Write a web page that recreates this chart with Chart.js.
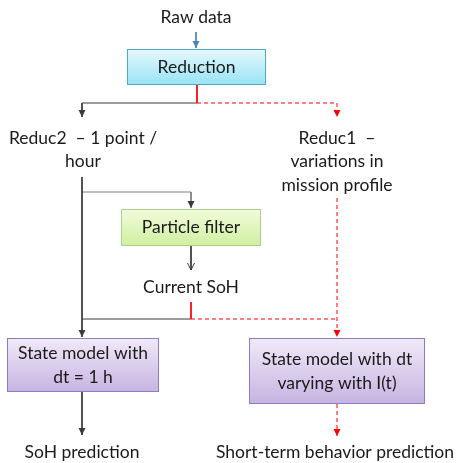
<!DOCTYPE html>
<html>
<head>
<meta charset="utf-8">
<script src="https://cdn.jsdelivr.net/npm/chart.js@4.4.1/dist/chart.umd.min.js"></script>
<style>
  html, body { margin: 0; padding: 0; background: #fff; }
  #wrap { width: 459px; height: 463px; }
</style>
</head>
<body>
<div id="wrap"><canvas id="flow" width="459" height="463"></canvas></div>
<script>
// boxes of the flow diagram
const boxLabels = [
  ['Reduction'],
  ['Particle filter'],
  ['State model with', 'dt = 1 h'],
  ['State model with dt', 'varying with I(t)']
];
const boxKinds = ['blue', 'green', 'purple', 'purple'];

// free text nodes
const textLabels = [
  ['Raw data'],
  ['Reduc2  \u2013 1 point /', 'hour'],
  ['Reduc1  \u2013', 'variations in', 'mission profile'],
  ['Current SoH'],
  ['SoH prediction'],
  ['Short-term behavior prediction']
];

// connector kinds: solid / grey / red (dashed) / redSolid / blue
const edgeKinds = ['blue', 'redSolid', 'solid', 'red', 'solid', 'grey', 'solid', 'redSolid', 'solid', 'red', 'solid', 'red', 'red'];

// layout (diagram units, 0..459 x 0..463)
const boxRects = [[127, 49, 139, 36], [121, 209, 140, 37], [7, 338, 152, 54], [249, 338, 176, 66]];
const textPos = [[196, 17], [83, 138], [337, 138], [191, 287], [82, 452], [335, 452]];
const edgePaths = [
  [[196, 32], [196, 48]],
  [[197, 85], [197, 103]],
  [[197, 103], [82, 103], [82, 117]],
  [[197, 103], [337, 103], [337, 117]],
  [[82, 177], [82, 337]],
  [[82, 192], [191, 192], [191, 208]],
  [[191, 246], [191, 270]],
  [[191, 302], [191, 319]],
  [[191, 319], [82, 319]],
  [[191, 319], [337, 319]],
  [[82, 392], [82, 435]],
  [[337, 198], [337, 337]],
  [[337, 404], [337, 436]]
];
const arrowHeads = [
  [196, 48, 'blue', 'fill'], [82, 117, 'solid', 'fill'], [337, 117, 'red', 'fill'],
  [191, 208, 'solid', 'fill'], [191, 270, 'solid', 'open'], [82, 337, 'solid', 'fill'],
  [337, 337, 'red', 'fill'], [82, 435, 'solid', 'fill'], [337, 436, 'red', 'fill']
];

const lineColors = { solid: '#3a3a3a', grey: '#7f7f7f', red: '#ff0000', redSolid: '#ff0000', blue: '#4f81bd' };
const boxStyles = {
  blue: { top: '#e6f9fd', bottom: '#98e3f5', border: '#4bacc6' },
  green: { top: '#f1fbdc', bottom: '#d0efa0', border: '#a9d18e' },
  purple: { top: '#f1eaf8', bottom: '#c6b3e2', border: '#8e7cc3' }
};

const datasets = edgePaths.map((p, i) => ({
  type: 'line',
  data: p.map(pt => ({ x: pt[0], y: pt[1] })),
  borderColor: lineColors[edgeKinds[i]],
  borderWidth: 1,
  borderDash: edgeKinds[i] === 'red' ? [4, 3] : [],
  pointRadius: 0,
  fill: false,
  tension: 0
}));

const FONT = '17.5px Lato, "Open Sans", sans-serif';

const diagramPlugin = {
  id: 'diagram',
  afterDatasetsDraw(chart) {
    const ctx = chart.ctx;
    const xs = chart.scales.x, ys = chart.scales.y;
    const px = v => xs.getPixelForValue(v);
    const py = v => ys.getPixelForValue(v);
    ctx.save();
    // boxes
    boxRects.forEach((r, i) => {
      const st = boxStyles[boxKinds[i]];
      const x0 = px(r[0]), y0 = py(r[1]), x1 = px(r[0] + r[2]), y1 = py(r[1] + r[3]);
      const g = ctx.createLinearGradient(0, y0, 0, y1);
      g.addColorStop(0, st.top);
      g.addColorStop(1, st.bottom);
      ctx.fillStyle = g;
      ctx.fillRect(x0, y0, x1 - x0, y1 - y0);
      ctx.strokeStyle = st.border;
      ctx.lineWidth = 1;
      ctx.strokeRect(x0 + 0.5, y0 + 0.5, x1 - x0 - 1, y1 - y0 - 1);
      ctx.fillStyle = '#1a1a1a';
      ctx.font = FONT;
      ctx.textAlign = 'center';
      ctx.textBaseline = 'middle';
      const lines = boxLabels[i];
      const cx = (x0 + x1) / 2, cy = (y0 + y1) / 2;
      lines.forEach((t, k) => ctx.fillText(t, cx, cy + (k - (lines.length - 1) / 2) * 24));
    });
    // texts
    ctx.fillStyle = '#1a1a1a';
    ctx.font = FONT;
    ctx.textAlign = 'center';
    ctx.textBaseline = 'middle';
    textLabels.forEach((lines, i) => {
      const p = textPos[i];
      lines.forEach((t, k) => ctx.fillText(t, px(p[0]), py(p[1] + k * 23.5)));
    });
    // arrow heads
    arrowHeads.forEach(a => {
      const x = px(a[0]), y = py(a[1]);
      ctx.strokeStyle = lineColors[a[2]];
      ctx.fillStyle = lineColors[a[2]];
      ctx.beginPath();
      ctx.moveTo(x - 3.5, y - 7);
      ctx.lineTo(x, y);
      ctx.lineTo(x + 3.5, y - 7);
      if (a[3] === 'fill') { ctx.closePath(); ctx.fill(); }
      else { ctx.lineWidth = 1; ctx.stroke(); }
    });
    ctx.restore();
  }
};

new Chart(document.getElementById('flow').getContext('2d'), {
  type: 'scatter',
  data: { datasets: datasets },
  options: {
    responsive: false,
    animation: false,
    layout: { padding: 0 },
    plugins: { legend: { display: false }, tooltip: { enabled: false } },
    scales: {
      x: { type: 'linear', min: 0, max: 459, display: false },
      y: { type: 'linear', min: 0, max: 463, reverse: true, display: false }
    }
  },
  plugins: [diagramPlugin]
});
</script>
</body>
</html>
